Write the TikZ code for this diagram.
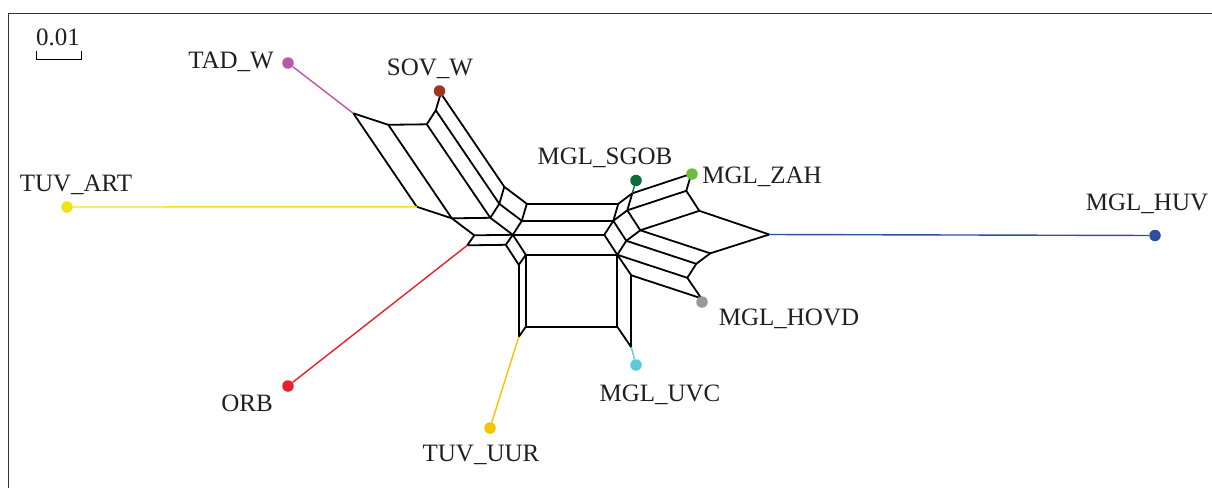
\documentclass[tikz,border=0pt]{standalone}
\usepackage{fontspec}
\setmainfont{Liberation Serif}
\usepackage{tikz}
\definecolor{cTad}{RGB}{190,85,165}
\definecolor{cSov}{RGB}{160,52,30}
\definecolor{cSgob}{RGB}{14,107,58}
\definecolor{cZah}{RGB}{108,191,62}
\definecolor{cHuv}{RGB}{46,79,160}
\definecolor{cHovd}{RGB}{153,153,153}
\definecolor{cUvc}{RGB}{92,200,218}
\definecolor{cUur}{RGB}{245,196,0}
\definecolor{cOrb}{RGB}{232,32,42}
\definecolor{cArt}{RGB}{238,226,26}
\tikzstyle{leaf}=[circle,fill,inner sep=0pt,minimum size=11.5pt]
\tikzstyle{lab}=[anchor=base,inner sep=0pt,text=black!88,font=\fontsize{25}{29}\selectfont]
\tikzstyle{net}=[line width=1.8pt,line join=round]
\tikzstyle{pend}=[line width=1.4pt]

\begin{document}
\begin{tikzpicture}[x=1pt,y=-1pt]
\useasboundingbox (0,0) rectangle (1212,488);
\draw[line width=1.3pt,black!80] (8.3,488) -- (8.3,13.3) -- (1212,13.3);

% scale
\node[lab] (scl) at (58,45) {0.01};
\draw[line width=1pt] (36,51) -- (36,59.5) -- (81,59.5) -- (81,51);

% split network
\coordinate (p1) at (353.3,113.3);
\coordinate (p2) at (388.3,124.8);
\coordinate (p3) at (426.8,124.3);
\coordinate (p4) at (435.8,110.3);
\coordinate (p5) at (440.8,93.3);
\coordinate (p6) at (416.8,206.8);
\coordinate (p7) at (451.8,218.3);
\coordinate (p8) at (490.3,217.8);
\coordinate (p9) at (499.3,203.8);
\coordinate (p10) at (504.3,186.8);
\coordinate (p11) at (526.8,203.8);
\coordinate (p12) at (521.8,220.8);
\coordinate (p13) at (474.3,235.3);
\coordinate (p14) at (467.3,245.3);
\coordinate (p15) at (512.8,234.8);
\coordinate (r1) at (505.8,244.8);
\coordinate (r2) at (518.8,264.8);
\coordinate (r3) at (518.8,336.8);
\coordinate (s1) at (525.8,254.8);
\coordinate (s2) at (617.3,254.8);
\coordinate (s3) at (525.8,326.8);
\coordinate (s4) at (617.3,326.8);
\coordinate (s5) at (631.3,275.3);
\coordinate (s6) at (631.3,347.3);
\coordinate (t1) at (618.3,203.8);
\coordinate (t2) at (613.3,220.8);
\coordinate (t3) at (604.3,234.8);
\coordinate (t4) at (626.3,240.8);
\coordinate (q1) at (632.3,193.3);
\coordinate (q2) at (627.3,210.3);
\coordinate (q3) at (640.3,230.3);
\coordinate (z1) at (691.3,173.8);
\coordinate (z2) at (686.3,190.8);
\coordinate (z3) at (699.3,210.8);
\coordinate (h1) at (769.3,234.5);
\coordinate (h2) at (710.3,253.3);
\coordinate (h3) at (696.3,263.8);
\coordinate (h4) at (687.3,277.8);
\coordinate (h5) at (701.3,298.3);

\draw[net] (p1) -- (p2) -- (p3) -- (p4) -- (p5);
\draw[net] (p6) -- (p7) -- (p8) -- (p9) -- (p10);
\foreach \u/\w in {p1/p6,p2/p7,p3/p8,p4/p9,p5/p10,
                   p7/p13,p8/p15,p9/p12,p10/p11,
                   p13/p15,p15/p12,p12/p11,
                   p13/p14,p14/r1,p15/r1,r1/r2,p15/s1,s1/r2,r2/r3,s3/r3,
                   p11/t1,p12/t2,p15/t3,s1/s2,s3/s4,s1/s3,s2/s4,
                   t1/t2,t2/t3,t3/s2,t2/t4,t4/s2,
                   s2/s5,s4/s6,s5/s6,
                   t1/q1,t2/q2,t4/q3,q1/q2,q2/q3,
                   q1/z1,q2/z2,z1/z2,z2/z3,q3/z3,
                   z3/h1,q3/h2,h2/h1,t4/h3,h3/h2,
                   s2/h4,h4/h3,s5/h5,h4/h5}
  \draw[net] (\u) -- (\w);

% leaves
\node[leaf,cTad] (tad) at (288,63) {};
\node[leaf,cSov] (sov) at (439.5,91) {};
\node[leaf,cSgob] (sgob) at (636,180.5) {};
\node[leaf,cZah] (zah) at (692,174) {};
\node[leaf,cHuv] (huv) at (1155,235.5) {};
\node[leaf,cHovd] (hovd) at (702,302) {};
\node[leaf,cUvc] (uvc) at (636,365) {};
\node[leaf,cUur] (uur) at (490,428) {};
\node[leaf,cOrb] (orb) at (288,386) {};
\node[leaf,cArt] (art) at (67,207) {};

\draw[pend,cTad] (tad) -- (p1);
\draw[pend,cSgob] (sgob) -- (q1);
\draw[pend,cHuv] (huv) -- (h1);
\draw[pend,cUvc] (uvc) -- (s6);
\draw[pend,cUur] (uur) -- (r3);
\draw[pend,cOrb] (orb) -- (p14);
\draw[pend,cArt] (art) -- (p6);

\node[lab] (ltad) at (231,68.3) {TAD\_W};
\node[lab] (lsov) at (430,75) {SOV\_W};
\node[lab] (lsgob) at (605,164.5) {MGL\_SGOB};
\node[lab] (lzah) at (762,183) {MGL\_ZAH};
\node[lab] (lhuv) at (1147,210) {MGL\_HUV};
\node[lab] (lhovd) at (789,325) {MGL\_HOVD};
\node[lab] (luvc) at (660,401.7) {MGL\_UVC};
\node[lab] (lorb) at (247,411.7) {ORB};
\node[lab] (luur) at (481,461.7) {TUV\_UUR};
\node[lab] (lart) at (76,191.7) {TUV\_ART};
\end{tikzpicture}
\end{document}
